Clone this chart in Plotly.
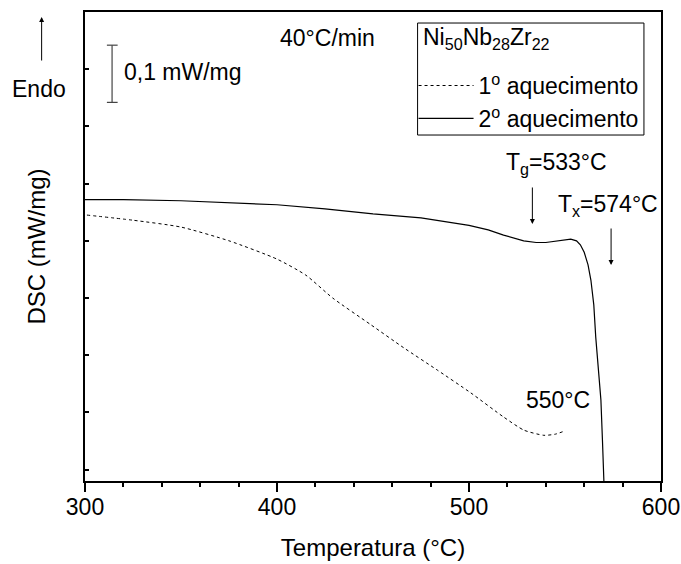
import plotly.graph_objects as go

# 2nd heating (solid)
T2 = [300, 320, 350, 375, 400, 425, 450, 475, 483.5, 500, 510, 518, 528.5, 535, 540,
      546, 553, 556, 558, 560, 562, 563.5, 565, 566, 567.5, 568.7, 569.5, 570.3, 570.6]
DSC2 = [-0.328, -0.328, -0.330, -0.333, -0.337, -0.344, -0.353, -0.360, -0.364, -0.373,
        -0.381, -0.390, -0.400, -0.403, -0.403, -0.400, -0.397, -0.400, -0.407, -0.420,
        -0.442, -0.469, -0.512, -0.568, -0.626, -0.678, -0.748, -0.822, -0.853]

# 1st heating (dotted)
T1 = [301, 325, 350, 375, 400, 415, 429, 449, 466, 483.5, 501, 518, 528.6, 539, 545, 549.4]
DSC1 = [-0.355, -0.364, -0.376, -0.400, -0.432, -0.460, -0.500, -0.547, -0.587, -0.626,
        -0.666, -0.708, -0.731, -0.740, -0.738, -0.733]

Tg = 533
Tx = 574
T_end1 = 550
scale_bar = 0.1

FONT = "Liberation Sans, Arial, sans-serif"

fig = go.Figure()
fig.add_trace(go.Scatter(x=T1, y=DSC1, mode="lines", name="1<sup>o</sup> aquecimento",
                         line=dict(color="black", width=1, dash="dot", shape="spline", smoothing=0.6),
                         legendgroup="a"))
fig.add_trace(go.Scatter(x=T2, y=DSC2, mode="lines", name="2<sup>o</sup> aquecimento",
                         line=dict(color="black", width=1.2), legendgroup="b"))

# scale bar
sx, sy0 = 314.1, -0.058
fig.add_shape(type="line", x0=sx, x1=sx, y0=sy0, y1=sy0 - scale_bar, line=dict(color="#444", width=1.2))
fig.add_shape(type="line", x0=sx - 2.7, x1=sx + 2.9, y0=sy0, y1=sy0, line=dict(color="#444", width=1.2))
fig.add_shape(type="line", x0=sx - 2.7, x1=sx + 2.9, y0=sy0 - scale_bar, y1=sy0 - scale_bar, line=dict(color="#444", width=1.2))

# legend frame + title
fig.add_shape(type="rect", xref="paper", yref="paper", x0=0.5774, x1=0.9704, y0=0.7377, y1=0.9765,
              line=dict(color="black", width=1), fillcolor="rgba(0,0,0,0)")

tf = dict(family=FONT, size=23, color="black")
fig.add_annotation(xref="paper", yref="paper", x=0.5826, y=0.944,
                   text="Ni<sub>50</sub>Nb<sub>28</sub>Zr<sub>22</sub>",
                   showarrow=False, xanchor="left", yanchor="middle", font=tf)
fig.add_annotation(x=319.3, y=-0.105, text=f"{scale_bar}".replace(".", ",") + " mW/mg",
                   showarrow=False, xanchor="left", yanchor="middle", font=tf)
fig.add_annotation(x=400.7, y=-0.0455, text="40°C/min", showarrow=False,
                   xanchor="left", yanchor="middle", font=tf)
fig.add_annotation(xref="paper", yref="paper", x=-0.08, y=0.8358, text="Endo",
                   showarrow=False, xanchor="center", yanchor="middle", font=tf)
fig.add_annotation(xref="paper", yref="paper", x=-0.0753, y=0.9893, ax=0, ay=45,
                   text="", showarrow=True, arrowhead=2, arrowsize=1, arrowwidth=1, arrowcolor="black")
fig.add_annotation(x=545.7, y=-0.264, text=f"T<sub>g</sub>={Tg}°C", showarrow=False,
                   xanchor="center", yanchor="middle", font=tf)
fig.add_annotation(x=Tg, y=-0.3706, ax=0, ay=-38, text="", showarrow=True,
                   arrowhead=2, arrowsize=1, arrowwidth=1, arrowcolor="black")
fig.add_annotation(x=572.3, y=-0.3374, text=f"T<sub>x</sub>={Tx}°C", showarrow=False,
                   xanchor="center", yanchor="middle", font=tf)
fig.add_annotation(x=Tx, y=-0.4423, ax=0, ay=-38, text="", showarrow=True,
                   arrowhead=2, arrowsize=1, arrowwidth=1, arrowcolor="black")
fig.add_annotation(x=546.3, y=-0.678, text=f"{T_end1}°C", showarrow=False,
                   xanchor="center", yanchor="middle", font=tf)

fig.update_layout(
    width=681, height=564,
    margin=dict(l=85, r=20, t=12, b=83),
    paper_bgcolor="white", plot_bgcolor="white",
    font=dict(family=FONT, size=22, color="black"),
    showlegend=True,
    legend=dict(x=0.5704, y=0.889, xanchor="left", yanchor="top",
                borderwidth=0, bgcolor="rgba(0,0,0,0)",
                font=dict(family=FONT, size=23, color="black"),
                itemwidth=55, tracegroupgap=3, traceorder="normal"),
    xaxis=dict(range=[300, 600], tick0=300, dtick=100, ticks="outside", ticklen=9,
               tickwidth=1.5, tickcolor="black", showline=True, linecolor="black",
               linewidth=2, mirror=True, showgrid=False, zeroline=False, automargin=False,
               tickfont=dict(family=FONT, size=23), ticklabelstandoff=-5,
               minor=dict(dtick=20, ticks="outside", ticklen=4, tickwidth=1.5, tickcolor="black"),
               title=dict(text="Temperatura (°C)", font=dict(family=FONT, size=24), standoff=21)),
    yaxis=dict(range=[-0.8199, 0], tick0=0, dtick=0.1, ticks="inside", ticklen=4,
               tickwidth=1.5, tickcolor="black", showticklabels=False, showline=True,
               linecolor="black", linewidth=2, mirror=True, showgrid=False, zeroline=False,
               automargin=False,
               title=dict(text="DSC (mW/mg)", font=dict(family=FONT, size=24), standoff=31)),
)

fig.write_html("out.html", config={"displayModeBar": False},
               post_script="document.body.style.margin='0';document.documentElement.style.overflow='hidden';")
